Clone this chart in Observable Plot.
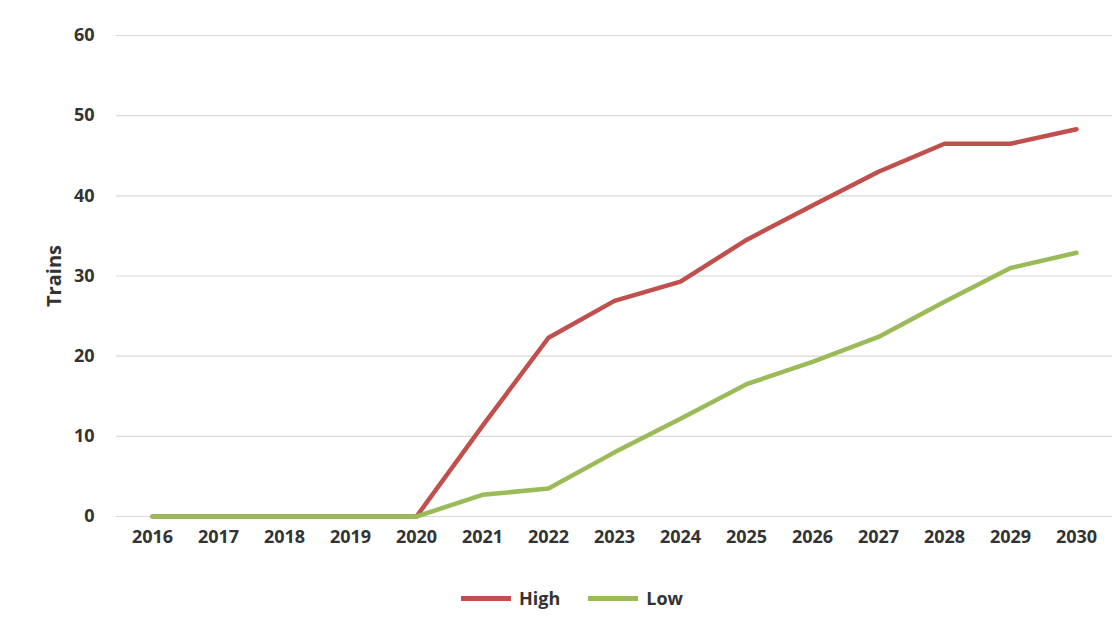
<!DOCTYPE html>
<html><head><meta charset="utf-8">
<script src="https://cdn.jsdelivr.net/npm/d3@7"></script>
<script src="https://cdn.jsdelivr.net/npm/@observablehq/plot@0.6"></script>
<style>
body{margin:0;background:#fff;font-family:"Open Sans",Lato,sans-serif;}
#wrap{width:1120px;height:632px;position:relative}
.leg{position:absolute;top:586px;left:12px;width:1120px;display:flex;justify-content:center;gap:28px;font:bold 18px "Open Sans",sans-serif;color:#333}
.leg span{display:flex;align-items:center;gap:8px}
.leg i{display:inline-block;width:50px;height:5px}
</style></head><body><div id="wrap"></div>
<script>
const years = ["2016","2017","2018","2019","2020","2021","2022","2023","2024","2025","2026","2027","2028","2029","2030"];
const high = [0,0,0,0,0,11.3,22.3,26.9,29.3,34.5,38.8,43,46.5,46.5,48.3];
const low = [0,0,0,0,0,2.7,3.5,8,12.2,16.5,19.3,22.4,26.8,31,32.9];
const series = ["High","Low"];
const colors = ["#c0504d","#9bbb59"];
const data = [];
years.forEach((y,i)=>{data.push({year:y,value:high[i],s:"High"});data.push({year:y,value:low[i],s:"Low"});});
const chart = Plot.plot({
  width:1120,height:560,marginLeft:116,marginRight:8,marginTop:35,marginBottom:44,
  style:{fontFamily:"Open Sans, sans-serif",fontSize:"18px",fontWeight:"bold",color:"#333"},
  x:{type:"point",domain:years,padding:0.5,label:null,tickSize:0,tickPadding:14},
  y:{domain:[0,60],ticks:[0,10,20,30,40,50,60],label:"Trains",labelAnchor:"center",labelArrow:"none",labelOffset:70,tickSize:0,tickPadding:22},
  color:{domain:series,range:colors},
  marks:[
    Plot.ruleY([0,10,20,30,40,50,60],{stroke:"#d9d9d9",strokeWidth:1.2}),
    Plot.line(data,{x:"year",y:"value",stroke:"s",strokeWidth:4.5,strokeLinejoin:"round"})
  ]
});
chart.querySelectorAll("[aria-label='y-axis label'] text").forEach(t=>t.style.fontSize="20px");
document.getElementById("wrap").appendChild(chart);
const leg=document.createElement("div");leg.className="leg";
series.forEach((s,i)=>{leg.innerHTML+=`<span><i style="background:${colors[i]}"></i>${s}</span>`});
document.getElementById("wrap").appendChild(leg);
</script></body></html>
